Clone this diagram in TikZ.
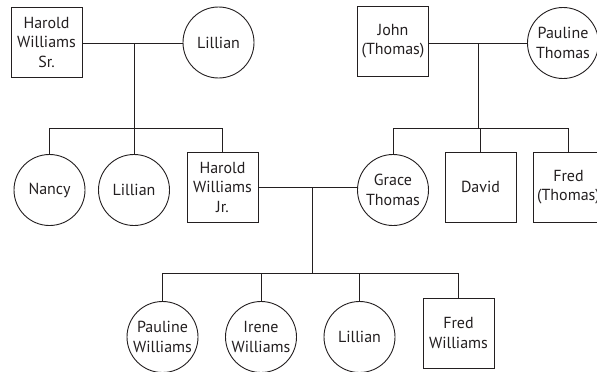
\documentclass[tikz,border=0pt]{standalone}
\usepackage{fontspec}
\setmainfont{PT Sans}
\definecolor{ink}{HTML}{231F20}
\begin{document}
\begin{tikzpicture}[x=1pt,y=-1pt,
  every node/.style={font=\fontsize{16}{19.5}\selectfont, text=ink, align=center},
  male/.style={draw=ink, line width=0.9pt, rectangle, minimum width=71pt, minimum height=70pt, inner sep=0pt},
  female/.style={draw=ink, line width=0.9pt, circle, minimum size=71pt, inner sep=0pt},
  link/.style={draw=ink, line width=0.9pt}]
\useasboundingbox (0,0) rectangle (597,372);
% generation 1
\node[male]   (hs)    at (46.5,42)  {Harold\\Williams\\Sr.};
\node[female] (lil1)  at (218.5,42.5) {Lillian};
\node[male]   (john)  at (393,41)   {John\\(Thomas)};
\node[female] (paul)  at (563,43)   {Pauline\\Thomas};
% generation 2
\node[female] (nancy) at (49.5,190) {Nancy};
\node[female] (lil2)  at (134,190)  {Lillian};
\node[male]   (hj)    at (222.5,187) {Harold\\Williams\\Jr.};
\node[female] (grace) at (393,190)  {Grace\\Thomas};
\node[male]   (david) at (480.5,187) {David};
\node[male]   (fredt) at (568.5,187) {Fred\\(Thomas)};
% generation 3
\node[female] (pw)    at (162.5,337) {Pauline\\Williams};
\node[female] (iw)    at (261,337)  {Irene\\Williams};
\node[female] (lil3)  at (359.5,337) {Lillian};
\node[male]   (fw)    at (458.5,333) {Fred\\Williams};
% junction coordinates
\coordinate (m1) at (134,43);
\coordinate (b1) at (134,128);
\coordinate (m2) at (478,43);
\coordinate (b2) at (478,128);
\coordinate (m3) at (312,187);
\coordinate (b3) at (312,273);
% couples
\draw[link] (hs.east |- m1) -- (lil1.west |- m1);
\draw[link] (john.east |- m2) -- (paul.west |- m2);
\draw[link] (hj.east |- m3) -- (grace.west |- m3);
% descent lines
\draw[link] (m1) -- (b1);
\draw[link] (m2) -- (b2);
\draw[link] (m3) -- (b3);
% sibling bars
\draw[link] (nancy.north |- b1) -- (hj.north |- b1);
\draw[link] (grace.north |- b2) -- (fredt.north |- b2);
\draw[link] (pw.north |- b3) -- (fw.north |- b3);
% children
\draw[link] (nancy.north |- b1) -- (nancy.north);
\draw[link] (lil2.north |- b1) -- (lil2.north);
\draw[link] (hj.north |- b1) -- (hj.north);
\draw[link] (grace.north |- b2) -- (grace.north);
\draw[link] (david.north |- b2) -- (david.north);
\draw[link] (fredt.north |- b2) -- (fredt.north);
\draw[link] (pw.north |- b3) -- (pw.north);
\draw[link] (iw.north |- b3) -- (iw.north);
\draw[link] (lil3.north |- b3) -- (lil3.north);
\draw[link] (fw.north |- b3) -- (fw.north);
\end{tikzpicture}
\end{document}
